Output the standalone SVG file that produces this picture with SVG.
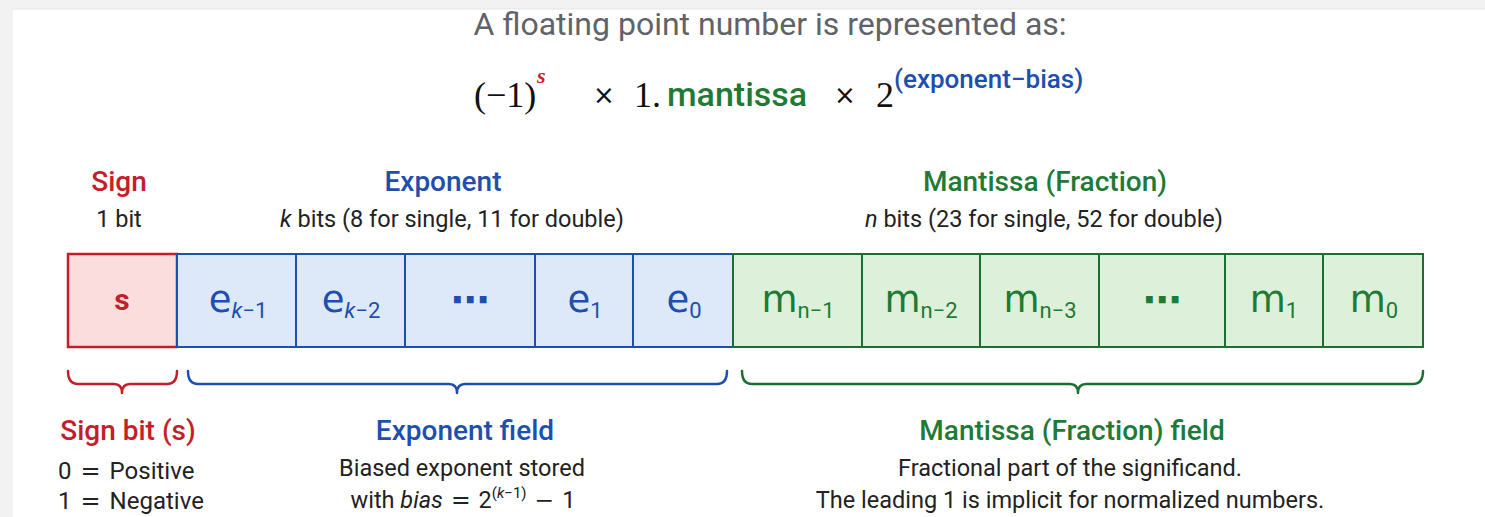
<svg xmlns="http://www.w3.org/2000/svg" width="1485" height="517" viewBox="0 0 1485 517">
<style>
.t{font-family:Roboto,"Open Sans","Liberation Sans",sans-serif;}
.hd{font-size:28px;font-weight:500;text-anchor:middle;}
.sub{font-size:23.5px;fill:#222;text-anchor:middle;}
.red{fill:#c41e2a;}
.blue{fill:#1e4fae;}
.green{fill:#1f7a35;}
.cs{fill:#fbdddd;stroke:#c41e2a;stroke-width:2.5;}
.ce{fill:#dde8f8;stroke:#1e4fae;stroke-width:2;}
.cm{fill:#ddf0d9;stroke:#1f6e31;stroke-width:2;}
.cl{font-family:"DejaVu Sans",sans-serif;font-size:37px;text-anchor:middle;}
.ss{font-family:Roboto,"Liberation Sans",sans-serif;font-size:22px;}
.dots{font-family:"DejaVu Sans",sans-serif;font-size:38px;font-weight:bold;text-anchor:middle;}
.m{font-family:"DejaVu Sans",sans-serif;}
.br{fill:none;stroke-width:2.5;stroke-linecap:round;stroke-linejoin:round;}
</style>
<rect x="0" y="0" width="1485" height="517" fill="#f2f2f2"/>
<rect x="12" y="9" width="1473" height="508" fill="#ffffff"/>
<line x1="12" y1="9" x2="1485" y2="9" stroke="#e6e6e6" stroke-width="1"/>
<line x1="12" y1="9" x2="12" y2="517" stroke="#ececec" stroke-width="1"/>

<g id="title">
<text class="t" x="770" y="35" font-size="32" fill="#5f6368" text-anchor="middle">A floating point number is represented as:</text>
</g>
<g id="formula">
<text x="474" y="107" font-family="'Liberation Serif','DejaVu Serif',serif" font-size="36" fill="#111">(−1)</text>
<text x="537" y="83" font-family="'Liberation Serif',serif" font-size="22" font-style="italic" font-weight="bold" class="red">s</text>
<text x="593" y="104" font-family="'DejaVu Sans',sans-serif" font-size="26" fill="#111">×</text>
<text x="634" y="107" font-family="'Liberation Serif','DejaVu Serif',serif" font-size="36" fill="#111">1.</text>
<text class="t green" x="667" y="106" font-size="34" font-weight="500">mantissa</text>
<text x="834" y="104" font-family="'DejaVu Sans',sans-serif" font-size="26" fill="#111">×</text>
<text x="876" y="107" font-family="'Liberation Serif','DejaVu Serif',serif" font-size="36" fill="#111">2</text>
<text class="t blue" x="894" y="88" font-size="26" font-weight="500">(exponent−bias)</text>
</g>

<g id="sign-header">
<text class="t hd red" x="119" y="191">Sign</text>
<text class="t sub" x="119" y="227">1 bit</text>
</g>
<g id="exponent-header">
<text class="t hd blue" x="443" y="191">Exponent</text>
<text class="t sub" x="452" y="227"><tspan font-style="italic">k</tspan> bits (8 for single, 11 for double)</text>
</g>
<g id="mantissa-header">
<text class="t hd green" x="1045" y="191">Mantissa (Fraction)</text>
<text class="t sub" x="1044" y="227"><tspan font-style="italic">n</tspan> bits (23 for single, 52 for double)</text>
</g>

<g id="sign-cell">
<rect class="cs" x="68" y="254" width="109" height="93"/>
<text class="t red" x="122" y="310" font-size="30" font-weight="bold" text-anchor="middle">s</text>
</g>
<g id="exponent-cells">
<rect class="ce" x="177" y="254" width="119" height="93"/>
<rect class="ce" x="296" y="254" width="109" height="93"/>
<rect class="ce" x="405" y="254" width="130" height="93"/>
<rect class="ce" x="535" y="254" width="98" height="93"/>
<rect class="ce" x="633" y="254" width="100" height="93"/>
<text class="cl blue" x="238" y="312">e<tspan class="ss" dy="6"><tspan font-style="italic">k</tspan>−1</tspan></text>
<text class="cl blue" x="351" y="312">e<tspan class="ss" dy="6"><tspan font-style="italic">k</tspan>−2</tspan></text>
<text class="dots blue" x="470" y="313">⋯</text>
<text class="cl blue" x="585" y="312">e<tspan class="ss" dy="6">1</tspan></text>
<text class="cl blue" x="684" y="312">e<tspan class="ss" dy="6">0</tspan></text>
</g>
<g id="mantissa-cells">
<rect class="cm" x="733" y="254" width="129" height="93"/>
<rect class="cm" x="862" y="254" width="118" height="93"/>
<rect class="cm" x="980" y="254" width="119" height="93"/>
<rect class="cm" x="1099" y="254" width="126" height="93"/>
<rect class="cm" x="1225" y="254" width="98" height="93"/>
<rect class="cm" x="1323" y="254" width="100" height="93"/>
<text class="cl green" x="798" y="312">m<tspan class="ss" dy="6">n−1</tspan></text>
<text class="cl green" x="921" y="312">m<tspan class="ss" dy="6">n−2</tspan></text>
<text class="cl green" x="1040" y="312">m<tspan class="ss" dy="6">n−3</tspan></text>
<text class="dots green" x="1162" y="313">⋯</text>
<text class="cl green" x="1274" y="312">m<tspan class="ss" dy="6">1</tspan></text>
<text class="cl green" x="1374" y="312">m<tspan class="ss" dy="6">0</tspan></text>
</g>

<g id="connectors">
<path class="br" stroke="#c41e2a" d="M68,371 Q68,384 78,384 H114 Q122,384 122,393 Q122,384 130,384 H167 Q177,384 177,371"/>
<path class="br" stroke="#1e4fae" d="M188,371 Q188,384 198,384 H449 Q457,384 457,393 Q457,384 465,384 H717 Q727,384 727,371"/>
<path class="br" stroke="#1f6e31" d="M742,371 Q742,384 752,384 H1070 Q1078,384 1078,393 Q1078,384 1086,384 H1413 Q1423,384 1423,371"/>
</g>

<g id="sign-desc">
<text class="t hd red" x="128" y="440">Sign bit (s)</text>
<text class="t" x="58" y="479" font-size="24" fill="#222">0<tspan class="m" dx="9">=</tspan><tspan dx="9">Positive</tspan></text>
<text class="t" x="58" y="509" font-size="24" fill="#222">1<tspan class="m" dx="9">=</tspan><tspan dx="9">Negative</tspan></text>
</g>
<g id="exponent-desc">
<text class="t hd blue" x="465" y="440">Exponent field</text>
<text class="t sub" x="462" y="476">Biased exponent stored</text>
<text class="t sub" x="463" y="508">with <tspan font-style="italic">bias</tspan><tspan class="m" dx="8">=</tspan><tspan dx="8">2</tspan><tspan font-size="15" dy="-10">(<tspan font-style="italic">k</tspan>−1)</tspan><tspan class="m" dy="10" dx="8">−</tspan><tspan dx="8">1</tspan></text>
</g>
<g id="mantissa-desc">
<text class="t hd green" x="1072" y="440">Mantissa (Fraction) field</text>
<text class="t sub" x="1070" y="476">Fractional part of the significand.</text>
<text class="t sub" x="1070" y="508">The leading 1 is implicit for normalized numbers.</text>
</g>
</svg>
